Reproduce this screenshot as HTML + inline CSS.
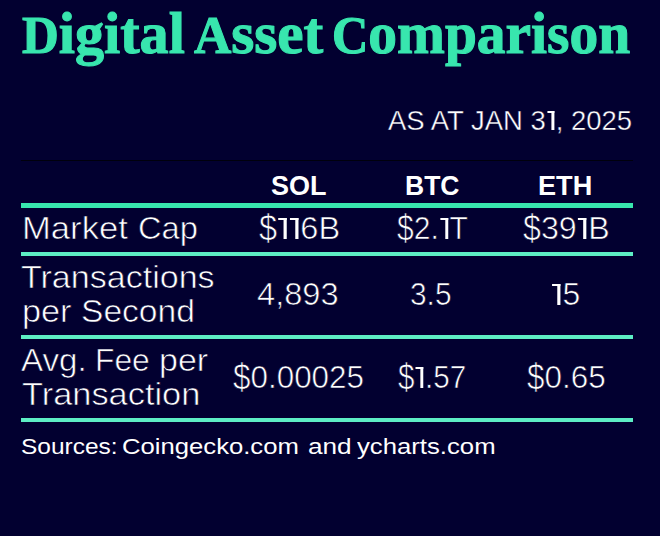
<!DOCTYPE html>
<html><head><meta charset="utf-8"><style>
html,body{margin:0;padding:0;}
body{width:660px;height:536px;background:#020030;position:relative;overflow:hidden;}
.t{position:absolute;white-space:nowrap;line-height:1;transform-origin:0 0;}
.l{position:absolute;left:21px;width:612px;}
.ds{display:inline-block;transform:scaleY(1.22)}
.d1{display:inline-block;position:relative;width:0.357em;height:0.688em;vertical-align:baseline}
.d1::before{content:'';position:absolute;left:0.046em;width:0.265em;top:0;height:0.075em;background:#fff}
.d1::after{content:'';position:absolute;left:0.211em;width:0.1em;top:0;bottom:0;background:#fff}
</style></head><body>
<div class="l" style="top:160px;height:1px;background:#00000c"></div>
<div class="l" style="top:203px;height:5px;background:#38e6ae"></div>
<div class="l" style="top:252px;height:4px;background:#5deec4"></div>
<div class="l" style="top:335px;height:4px;background:#5deec4"></div>
<div class="l" style="top:418px;height:4px;background:#5deec4"></div>
<div class="t" style="left:22.00px;top:0.00px;font-family:'Liberation Serif', serif;font-weight:700;font-size:60.00px;transform:scaleX(0.9701);color:#38e6ae;line-height:66px;-webkit-text-stroke:1.1px #38e6ae"><span style="font-size:52.5px">D</span>igital</div>
<div class="t" style="left:193.98px;top:0.00px;font-family:'Liberation Serif', serif;font-weight:700;font-size:60.00px;transform:scaleX(0.9850);color:#38e6ae;line-height:66px;-webkit-text-stroke:1.1px #38e6ae"><span style="font-size:52.5px">A</span>sset</div>
<div class="t" style="left:332.05px;top:0.00px;font-family:'Liberation Serif', serif;font-weight:700;font-size:60.00px;transform:scaleX(0.9576);color:#38e6ae;line-height:66px;-webkit-text-stroke:1.1px #38e6ae"><span style="font-size:52.5px">C</span>omparison</div>
<div class="t" style="left:388.00px;top:105.00px;font-family:'Liberation Sans', sans-serif;font-weight:400;font-size:27.60px;transform:scaleX(0.9964);color:#ffffff;line-height:31px;-webkit-text-stroke:0.4px #020030">AS AT JAN 3<span class="d1"></span>, 2025</div>
<div class="t" style="left:271.00px;top:171.00px;font-family:'Liberation Sans', sans-serif;font-weight:700;font-size:27.00px;transform:scaleX(1.0003);color:#ffffff;line-height:30px;">SOL</div>
<div class="t" style="left:405.02px;top:171.00px;font-family:'Liberation Sans', sans-serif;font-weight:700;font-size:27.00px;transform:scaleX(0.9818);color:#ffffff;line-height:30px;">BTC</div>
<div class="t" style="left:538.49px;top:171.00px;font-family:'Liberation Sans', sans-serif;font-weight:700;font-size:27.00px;transform:scaleX(1.0046);color:#ffffff;line-height:30px;">ETH</div>
<div class="t" style="left:21.73px;top:211.00px;font-family:'Liberation Sans', sans-serif;font-weight:400;font-size:30.50px;transform:scaleX(1.1352);color:#ffffff;line-height:34px;-webkit-text-stroke:0.6px #020030">Market</div>
<div class="t" style="left:137.75px;top:211.00px;font-family:'Liberation Sans', sans-serif;font-weight:400;font-size:30.50px;transform:scaleX(1.0703);color:#ffffff;line-height:34px;-webkit-text-stroke:0.6px #020030">Cap</div>
<div class="t" style="left:258.54px;top:211.00px;font-family:'Liberation Sans', sans-serif;font-weight:400;font-size:30.50px;transform:scaleX(1.0671);color:#ffffff;line-height:34px;-webkit-text-stroke:0.6px #020030"><span class="ds">$</span><span class="d1"></span><span class="d1"></span>6B</div>
<div class="t" style="left:396.98px;top:211.00px;font-family:'Liberation Sans', sans-serif;font-weight:400;font-size:30.50px;transform:scaleX(0.9856);color:#ffffff;line-height:34px;-webkit-text-stroke:0.6px #020030"><span class="ds">$</span>2.<span class="d1"></span>T</div>
<div class="t" style="left:523.00px;top:211.00px;font-family:'Liberation Sans', sans-serif;font-weight:400;font-size:30.50px;transform:scaleX(1.0557);color:#ffffff;line-height:34px;-webkit-text-stroke:0.6px #020030"><span class="ds">$</span>39<span class="d1"></span>B</div>
<div class="t" style="left:20.98px;top:260.00px;font-family:'Liberation Sans', sans-serif;font-weight:400;font-size:30.50px;transform:scaleX(1.1161);color:#ffffff;line-height:34px;-webkit-text-stroke:0.6px #020030">Transactions</div>
<div class="t" style="left:22.02px;top:294.00px;font-family:'Liberation Sans', sans-serif;font-weight:400;font-size:30.50px;transform:scaleX(1.1229);color:#ffffff;line-height:34px;-webkit-text-stroke:0.6px #020030">per</div>
<div class="t" style="left:80.58px;top:294.00px;font-family:'Liberation Sans', sans-serif;font-weight:400;font-size:30.50px;transform:scaleX(1.1012);color:#ffffff;line-height:34px;-webkit-text-stroke:0.6px #020030">Second</div>
<div class="t" style="left:257.46px;top:277.00px;font-family:'Liberation Sans', sans-serif;font-weight:400;font-size:30.50px;transform:scaleX(1.0693);color:#ffffff;line-height:34px;-webkit-text-stroke:0.6px #020030">4,893</div>
<div class="t" style="left:410.49px;top:277.00px;font-family:'Liberation Sans', sans-serif;font-weight:400;font-size:30.50px;transform:scaleX(0.9786);color:#ffffff;line-height:34px;-webkit-text-stroke:0.6px #020030">3.5</div>
<div class="t" style="left:550.61px;top:277.00px;font-family:'Liberation Sans', sans-serif;font-weight:400;font-size:30.50px;transform:scaleX(1.0464);color:#ffffff;line-height:34px;-webkit-text-stroke:0.6px #020030"><span class="d1"></span>5</div>
<div class="t" style="left:20.91px;top:343.00px;font-family:'Liberation Sans', sans-serif;font-weight:400;font-size:30.50px;transform:scaleX(1.0858);color:#ffffff;line-height:34px;-webkit-text-stroke:0.6px #020030">Avg.</div>
<div class="t" style="left:94.92px;top:343.00px;font-family:'Liberation Sans', sans-serif;font-weight:400;font-size:30.50px;transform:scaleX(1.0416);color:#ffffff;line-height:34px;-webkit-text-stroke:0.6px #020030">Fee</div>
<div class="t" style="left:158.66px;top:343.00px;font-family:'Liberation Sans', sans-serif;font-weight:400;font-size:30.50px;transform:scaleX(1.1135);color:#ffffff;line-height:34px;-webkit-text-stroke:0.6px #020030">per</div>
<div class="t" style="left:21.55px;top:377.00px;font-family:'Liberation Sans', sans-serif;font-weight:400;font-size:30.50px;transform:scaleX(1.1269);color:#ffffff;line-height:34px;-webkit-text-stroke:0.6px #020030">Transaction</div>
<div class="t" style="left:233.00px;top:360.00px;font-family:'Liberation Sans', sans-serif;font-weight:400;font-size:30.50px;transform:scaleX(1.0299);color:#ffffff;line-height:34px;-webkit-text-stroke:0.6px #020030"><span class="ds">$</span>0.00025</div>
<div class="t" style="left:397.94px;top:360.00px;font-family:'Liberation Sans', sans-serif;font-weight:400;font-size:30.50px;transform:scaleX(0.9718);color:#ffffff;line-height:34px;-webkit-text-stroke:0.6px #020030"><span class="ds">$</span><span class="d1"></span>.57</div>
<div class="t" style="left:527.00px;top:360.00px;font-family:'Liberation Sans', sans-serif;font-weight:400;font-size:30.50px;transform:scaleX(1.0299);color:#ffffff;line-height:34px;-webkit-text-stroke:0.6px #020030"><span class="ds">$</span>0.65</div>
<div class="t" style="left:20.67px;top:434.00px;font-family:'Liberation Sans', sans-serif;font-weight:400;font-size:22.50px;transform:scaleX(1.0878);color:#ffffff;line-height:25px;">Sources:</div>
<div class="t" style="left:121.81px;top:434.00px;font-family:'Liberation Sans', sans-serif;font-weight:400;font-size:22.50px;transform:scaleX(1.1404);color:#ffffff;line-height:25px;">Coingecko.com</div>
<div class="t" style="left:307.75px;top:434.00px;font-family:'Liberation Sans', sans-serif;font-weight:400;font-size:22.50px;transform:scaleX(1.1637);color:#ffffff;line-height:25px;">and</div>
<div class="t" style="left:356.88px;top:434.00px;font-family:'Liberation Sans', sans-serif;font-weight:400;font-size:22.50px;transform:scaleX(1.1423);color:#ffffff;line-height:25px;">ycharts.com</div>
</body></html>
